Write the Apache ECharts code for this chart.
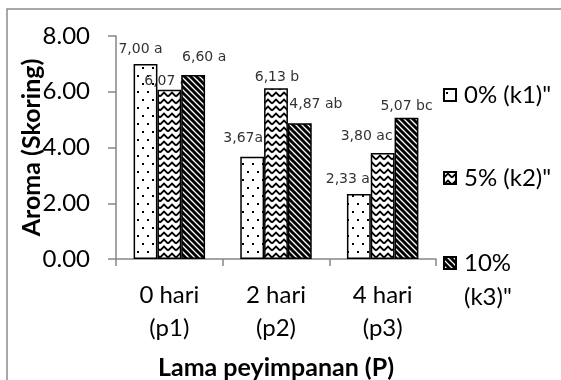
<!DOCTYPE html>
<html>
<head>
<meta charset="utf-8">
<script src="https://cdn.jsdelivr.net/npm/echarts@6/dist/echarts.min.js"></script>
<style>
  html, body { margin: 0; padding: 0; background: #fff; }
  #chart { width: 561px; height: 380px; }
</style>
</head>
<body>
<div id="chart"></div>
<script>
// Storage time groups and treatment levels
const categories = ['0 hari\n(p1)', '2 hari\n(p2)', '4 hari\n(p3)'];
const seriesNames = ['0% (k1)"', '5% (k2)"', '10%\n(k3)"'];
const k1Values = [7.00, 3.67, 2.33];
const k2Values = [6.07, 6.13, 3.80];
const k3Values = [6.60, 4.87, 5.07];
// Significance notation printed after each value
const k1Notes = [' a', 'a', ' a'];
const k2Notes = [' a', ' b', ' ac'];
const k3Notes = [' a', ' ab', ' bc'];
const yTicks = [0, 2, 4, 6, 8];

// Label nudges (dx, dy) per bar, in pixels
const labelNudge = [
  [[-5, -2.5], [-9, -6], [-11, -2.5]],
  [[-3, 3.5], [1, 1.5], [-16, -4.5]],
  [[11, -5.5], [16, -6.5], [0, 0.5]]
];

// Monochrome fill patterns
function makeTile(w, h, draw) {
  const c = document.createElement('canvas');
  c.width = w; c.height = h;
  const g = c.getContext('2d');
  g.fillStyle = '#fff';
  g.fillRect(0, 0, w, h);
  g.fillStyle = '#000';
  g.strokeStyle = '#000';
  draw(g);
  return { image: c, repeat: 'repeat' };
}
const dotFill = makeTile(10, 16, g => {
  g.fillRect(2, 3, 2, 2);
  g.fillRect(7, 11, 2, 2);
});
const zigFill = makeTile(8, 7, g => {
  g.lineWidth = 1.8;
  g.beginPath();
  g.moveTo(0, 5.5); g.lineTo(4, 1.5); g.lineTo(8, 5.5);
  g.stroke();
});
const stripeFill = makeTile(6, 6, g => {
  g.lineWidth = 3;
  g.beginPath();
  g.moveTo(-3, -3); g.lineTo(9, 9);
  g.moveTo(-3, 3); g.lineTo(3, 9);
  g.moveTo(3, -3); g.lineTo(9, 3);
  g.stroke();
});
const fills = [dotFill, zigFill, stripeFill];

const valueSets = [k1Values, k2Values, k3Values];
const noteSets = [k1Notes, k2Notes, k3Notes];

const series = valueSets.map((vals, si) => ({
  name: seriesNames[si],
  type: 'bar',
  z: 2 + si,
  barGap: '0%',
  barCategoryGap: '33%',
  itemStyle: { color: fills[si], borderColor: '#000', borderWidth: 1.5 },
  label: {
    show: true,
    position: 'top',
    fontFamily: 'DejaVu Sans',
    fontSize: 14,
    color: '#333',
    formatter: p => p.value.toFixed(2).replace('.', ',') + noteSets[si][p.dataIndex]
  },
  data: vals.map((v, i) => ({ value: v, label: { offset: labelNudge[si][i] } }))
}));

const baseFont = 'Lato';
// The wrapped last entry keeps its swatch beside its first line:
// a blank leading line puts that first line at the block's centre.
const legendTops = [81, 164, 212];
const legends = seriesNames.map((n, i) => ({
  data: [{ name: n, icon: 'rect' }],
  orient: 'vertical',
  left: 443,
  top: legendTops[i],
  padding: 0,
  itemWidth: 12,
  itemHeight: 12,
  selectedMode: false,
  formatter: name => (i === 2 ? '\n' + name : name),
  textStyle: { fontFamily: baseFont, fontSize: 24, color: '#000', lineHeight: i === 2 ? 34 : 28, padding: [0, 0, 0, 3] }
}));

const chart = echarts.init(document.getElementById('chart'), null, { renderer: 'canvas' });
chart.setOption({
  animation: false,
  backgroundColor: '#fff',
  grid: { left: 116, right: 125, top: 36, bottom: 121, outerBoundsMode: 'none', containLabel: false },
  legend: legends,
  xAxis: {
    type: 'category',
    data: categories,
    axisLine: { lineStyle: { color: '#868686', width: 1.5 } },
    axisTick: { show: true, length: 7, lineStyle: { color: '#868686', width: 1.5 } },
    axisLabel: { fontFamily: baseFont, fontSize: 24, color: '#000', lineHeight: 33, margin: 20 },
    name: 'Lama peyimpanan (P)',
    nameLocation: 'middle',
    nameGap: 96,
    nameTextStyle: { fontFamily: baseFont, fontWeight: 'bold', fontSize: 25, color: '#000' }
  },
  yAxis: {
    type: 'value',
    min: yTicks[0],
    max: yTicks[yTicks.length - 1],
    interval: yTicks[1] - yTicks[0],
    splitLine: { show: false },
    axisLine: { show: true, lineStyle: { color: '#868686', width: 1.5 } },
    axisTick: { show: true, length: 8, lineStyle: { color: '#868686', width: 1.5 } },
    axisLabel: { fontFamily: baseFont, fontSize: 24, color: '#000', margin: 26, formatter: v => v.toFixed(2) },
    name: 'Aroma (Skoring)',
    nameLocation: 'middle',
    nameGap: 72,
    nameMoveOverlap: false,
    nameTextStyle: { fontFamily: baseFont, fontWeight: 'bold', fontSize: 25, color: '#000' }
  },
  graphic: [{
    type: 'rect',
    shape: { x: 7, y: 9, width: 600, height: 420 },
    style: { fill: 'none', stroke: '#8c8c8c', lineWidth: 1.5 },
    silent: true,
    z: -10
  }],
  series: series
});
</script>
</body>
</html>
